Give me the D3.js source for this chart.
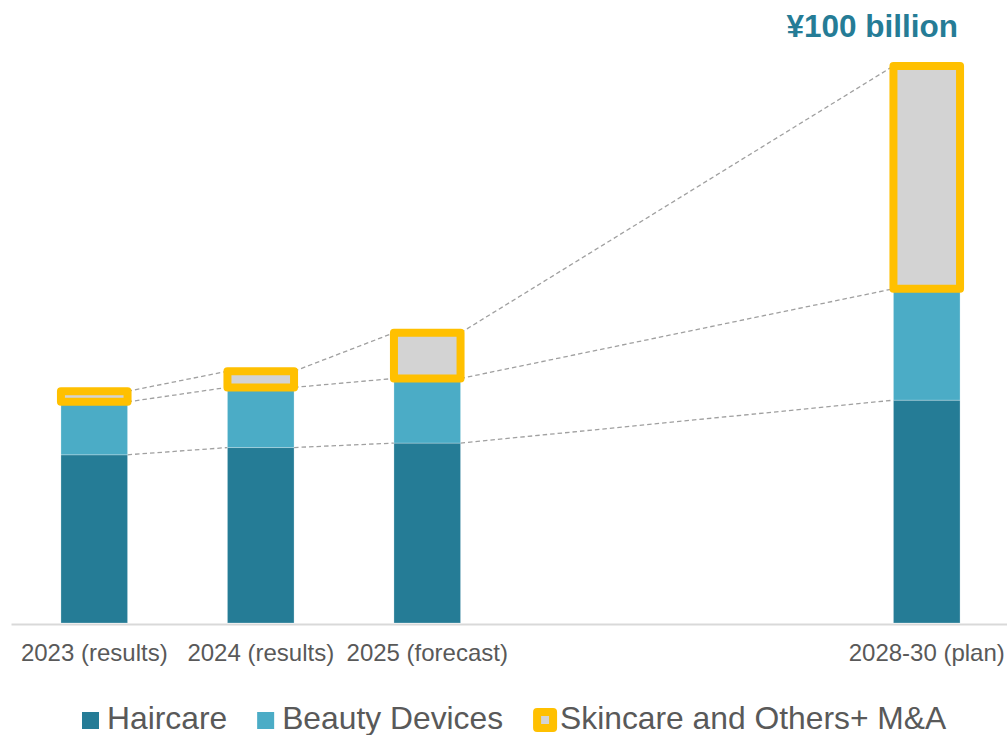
<!DOCTYPE html>
<html>
<head>
<meta charset="utf-8">
<script src="https://cdn.jsdelivr.net/npm/d3@7"></script>
<style>
  body { margin: 0; background: #fff; }
  svg { display: block; font-family: "Liberation Sans", Arial, sans-serif; }
</style>
</head>
<body>
<div id="chart"></div>
<script>
// data (billions of yen)
const categories = ["2023 (results)", "2024 (results)", "2025 (forecast)", "gap1", "gap2", "2028-30 (plan)"];
const shownCategories = ["2023 (results)", "2024 (results)", "2025 (forecast)", "2028-30 (plan)"];
const seriesNames = ["Haircare", "Beauty Devices", "Skincare and Others+ M&A"];
const haircare = [30.2, 31.5, 32.3, 40];
const beautyDevices = [9.5, 10.8, 11.6, 20];
const skincareOthers = [1.9, 2.9, 8.2, 40];
const titleText = "¥100 billion";

const colors = ["#257c96", "#4bacc6", "#d3d3d3"];
const yellow = "#ffc000";

const width = 1007, height = 735;
const baseY = 623, topY = 66;

const svg = d3.select("#chart").append("svg")
  .attr("width", width)
  .attr("height", height);

const rows = shownCategories.map((c, i) => ({
  cat: c,
  "Haircare": haircare[i],
  "Beauty Devices": beautyDevices[i],
  "Skincare and Others+ M&A": skincareOthers[i]
}));

const stacked = d3.stack().keys(seriesNames)(rows);

const xScale = d3.scaleBand()
  .domain(categories)
  .range([11, 1010])
  .paddingInner(0.6)
  .paddingOuter(0.3);

const yScale = d3.scaleLinear()
  .domain([0, 100])
  .range([baseY, topY]);

// dashed connectors between stack boundaries
const connectors = svg.append("g");
stacked.forEach(layer => {
  for (let i = 0; i < layer.length - 1; i++) {
    const a = layer[i], b = layer[i + 1];
    connectors.append("line")
      .attr("x1", xScale(a.data.cat) + xScale.bandwidth())
      .attr("y1", yScale(a[1]))
      .attr("x2", xScale(b.data.cat))
      .attr("y2", yScale(b[1]))
      .attr("stroke", "#a0a0a0")
      .attr("stroke-width", 1.3)
      .attr("stroke-dasharray", "4.5,3");
  }
});

// x axis
const xAxis = d3.axisBottom(xScale)
  .tickValues(shownCategories)
  .tickSize(0)
  .tickPadding(20);

const axisG = svg.append("g")
  .attr("transform", `translate(0,${baseY + 1})`)
  .call(xAxis);
axisG.select(".domain").attr("stroke", "#d9d9d9").attr("stroke-width", 2);
axisG.selectAll(".tick text")
  .attr("font-size", 24)
  .attr("font-family", "Liberation Sans, Arial, sans-serif")
  .attr("fill", "#595959");

// bars
const bars = svg.append("g");
stacked.forEach((layer, k) => {
  const g = bars.append("g");
  g.selectAll("rect")
    .data(layer)
    .join("rect")
    .attr("x", d => xScale(d.data.cat))
    .attr("y", d => yScale(d[1]))
    .attr("width", xScale.bandwidth())
    .attr("height", d => yScale(d[0]) - yScale(d[1]))
    .attr("fill", colors[k])
    .attr("stroke", k === 2 ? yellow : "rgba(255,255,255,0.25)")
    .attr("stroke-width", k === 2 ? 8 : 1)
    .attr("stroke-linejoin", "round");
});

// title
svg.append("text")
  .attr("x", 958)
  .attr("y", 36.5)
  .attr("text-anchor", "end")
  .attr("font-size", 31.5)
  .attr("font-weight", "bold")
  .attr("fill", "#257c96")
  .text(titleText);

// legend
const legend = svg.append("g");
let lx = 82;
seriesNames.forEach((name, k) => {
  if (k === 2) {
    lx += 4;
    legend.append("rect")
      .attr("x", lx).attr("y", 712)
      .attr("width", 16).attr("height", 16)
      .attr("fill", colors[k])
      .attr("stroke", yellow)
      .attr("stroke-width", 8)
      .attr("stroke-linejoin", "round");
    lx += 16 + 7;
  } else {
    legend.append("rect")
      .attr("x", lx).attr("y", 712)
      .attr("width", 17).attr("height", 17)
      .attr("fill", colors[k]);
    lx += 17 + 8;
  }
  const t = legend.append("text")
    .attr("x", lx)
    .attr("y", 729.3)
    .attr("font-size", 31.8)
    .attr("fill", "#595959")
    .text(name);
  lx += t.node().getComputedTextLength() + 30;
});
</script>
</body>
</html>
